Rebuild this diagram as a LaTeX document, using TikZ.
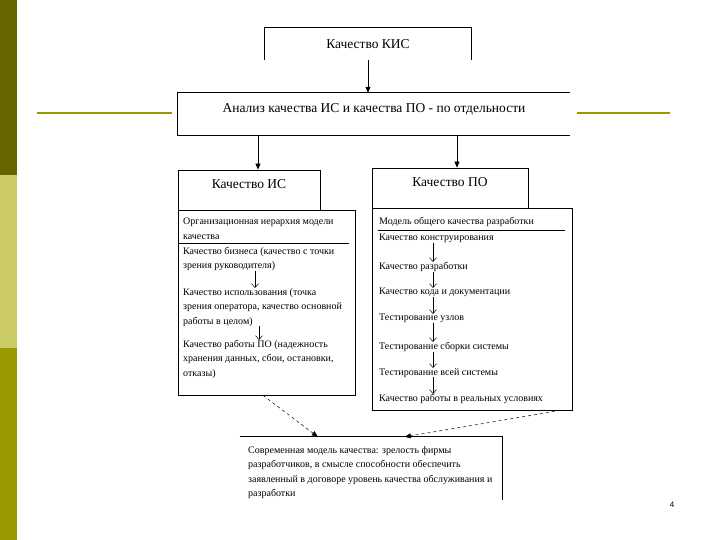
\documentclass[tikz,border=0pt]{standalone}
\usepackage{fontspec}
\setmainfont{Liberation Serif}
\newfontfamily\numfont{Liberation Sans}
\usetikzlibrary{arrows.meta, positioning}
\definecolor{sidedark}{HTML}{666600}
\definecolor{sidelight}{HTML}{CCCC66}
\definecolor{sidemid}{HTML}{999900}

\begin{document}
\begin{tikzpicture}[
x=1pt, y=-1pt,
frame/.style={
rectangle,
draw=black,
line width=0.8pt,
inner sep=0pt
},
hdr/.style={
font=\fontsize{13.5}{16}\selectfont,
inner sep=0pt
},
item/.style={
anchor=north west,
align=left,
inner sep=0pt,
font=\fontsize{10}{14.5}\selectfont
},
edge/.style={
line width=0.8pt
},
arrow/.style={
-{Triangle[length=6pt,width=5pt]},
line width=0.8pt
},
thin arrow/.style={
-{Straight Barb[length=4pt,width=7pt]},
line width=0.5pt
},
dash arrow/.style={
-{Triangle[length=6pt,width=5pt]},
dashed,
line width=0.5pt
}
]

\useasboundingbox (0,0) rectangle (720,540);
\fill [sidedark] (0,0) rectangle (17,175);
\fill [sidelight] (0,175) rectangle (17,348);
\fill [sidemid] (0,348) rectangle (17,540);
\draw [sidemid, line width=2pt] (37,113) -- (172,113);
\draw [sidemid, line width=2pt] (577,113) -- (670,113);

\node (kis) [hdr, minimum width=206pt, minimum height=32pt] at (368,44) {Качество КИС};
\draw [edge] (kis.south west) |- (kis.north east) -- (kis.south east);

\node (an) [hdr, minimum width=392pt, minimum height=42pt, text depth=12pt] at (374,114)
{Анализ качества ИС и качества ПО - по отдельности};
\draw [edge] (an.north east) -- (an.north west) -- (an.south west) -- (an.south east);

\node (lhead) [frame, hdr, minimum width=142pt, minimum height=40pt, text depth=12pt] at (249,190) {Качество ИС};

\node (rhead) [frame, hdr, minimum width=156pt, minimum height=40pt, text depth=12pt] at (450,188) {Качество ПО};

\node (lbox) [frame, minimum width=177pt, minimum height=185pt] at (266.5,302.5) {};

\node (rbox) [frame, minimum width=200pt, minimum height=202pt] at (472,309) {};

\node (l0) [item] at (183,218) {Организационная иерархия модели\\качества};
\draw [edge] (178,243) -- (349,243);

\node (l1) [item] at (183,247) {Качество бизнеса (качество с точки\\зрения руководителя)};

\node (l2) [item] at (183,288) {Качество использования (точка\\зрения оператора, качество основной\\работы в целом)};

\node (l3) [item] at (183,340) {Качество работы ПО (надежность\\хранения данных, сбои, остановки,\\отказы)};

\node (r0) [item] at (379,217) {Модель общего качества разработки};
\draw [edge] (378,230) -- (565,230);

\node (r1) [item] at (379,234) {Качество конструирования};

\node (r2) [item] at (379,262) {Качество разработки};

\node (r3) [item] at (379,288) {Качество кода и документации};

\node (r4) [item] at (379,314) {Тестирование узлов};

\node (r5) [item] at (379,342) {Тестирование сборки системы};

\node (r6) [item] at (379,368) {Тестирование всей системы};

\node (r7) [item] at (379,394) {Качество работы в реальных условиях};

\node (sov) [minimum width=262pt, minimum height=63pt, inner sep=0pt] at (371,468.5) {};
\draw [edge] (sov.north west) -- (sov.north east) -- (sov.south east);

\node (stext) [item] at (248,446) {Современная модель качества: зрелость фирмы\\разработчиков, в смысле способности обеспечить\\заявленный в договоре уровень качества обслуживания и\\разработки};

\node (page) [font=\numfont\fontsize{8}{10}\selectfont, inner sep=0pt] at (672,505) {4};

\draw [arrow] (kis.south) -- ([xshift=-6pt]an.north);
\draw [arrow] ([xshift=-116pt]an.south) -- ([xshift=9pt]lhead.north);
\draw [arrow] ([xshift=83pt]an.south) -- ([xshift=7pt]rhead.north);

\draw [thin arrow] ([xshift=72pt]l1.south west) -- ([xshift=72pt]l2.north west);
\draw [thin arrow] ([xshift=76pt]l2.south west) -- ([xshift=76pt]l3.north west);

\draw [thin arrow] ([xshift=54pt]r1.south west) -- ([xshift=54pt]r2.north west);
\draw [thin arrow] ([xshift=54pt]r2.south west) -- ([xshift=54pt]r3.north west);
\draw [thin arrow] ([xshift=54pt]r3.south west) -- ([xshift=54pt]r4.north west);
\draw [thin arrow] ([xshift=54pt]r4.south west) -- ([xshift=54pt]r5.north west);
\draw [thin arrow] ([xshift=54pt]r5.south west) -- ([xshift=54pt]r6.north west);
\draw [thin arrow] ([xshift=54pt]r6.south west) -- ([xshift=54pt]r7.north west);

\draw [dash arrow] ([xshift=-3.5pt]lbox.south) -- ([xshift=78pt]sov.north west);
\draw [dash arrow] ([xshift=-12pt]rbox.south east) -- ([xshift=165pt]sov.north west);

\end{tikzpicture}
\end{document}
